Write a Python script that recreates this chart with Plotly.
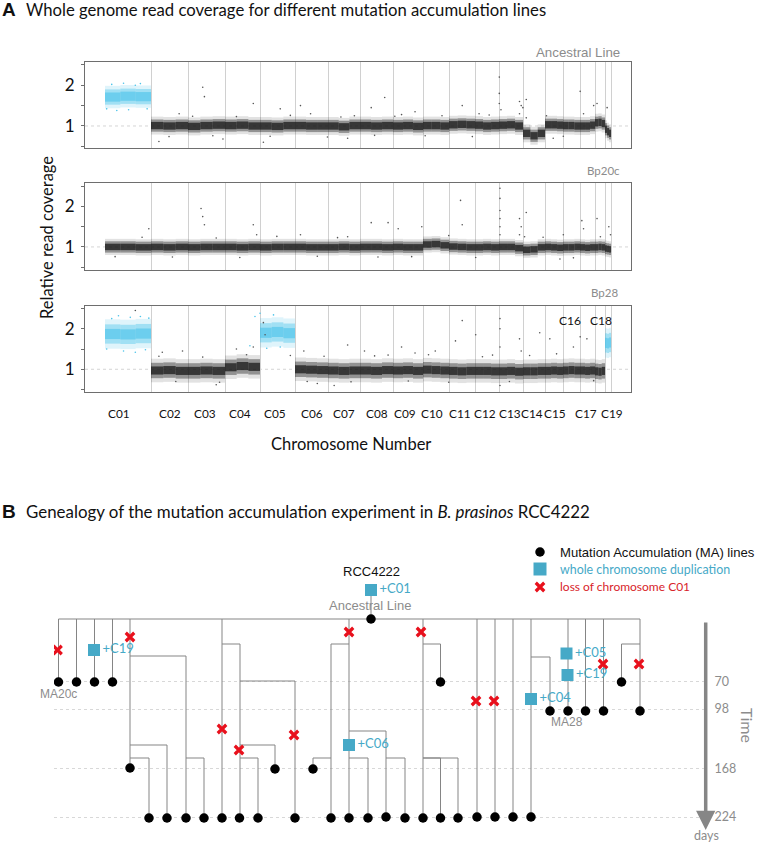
import plotly.graph_objects as go

W, H = 758, 843
BODY_FONT = "Lato, sans-serif"
ARIAL = "Liberation Sans, sans-serif"
GRAY_TXT = "#8c8c8c"
TEAL = "#46a9c7"
RED = "#e8101c"
CYAN = "#4cc4ea"

# chromosome lengths in Mb
chromosomes = ["C01", "C02", "C03", "C04", "C05", "C06", "C07", "C08", "C09", "C10",
               "C11", "C12", "C13", "C14", "C15", "C16", "C17", "C18", "C19"]
chr_len = [1.365, 1.098, 1.098, 1.039, 1.039, 0.979, 0.950, 0.979, 0.890, 0.772,
           0.772, 0.712, 0.712, 0.653, 0.534, 0.504, 0.445, 0.297, 0.178]
label_names = ["C01", "C02", "C03", "C04", "C05", "C06", "C07", "C08", "C09", "C10",
               "C11", "C12", "C13", "C14", "C15", "C17", "C19"]
label_mb = [0.42, 1.93, 2.97, 4.01, 5.04, 6.14, 7.09, 8.07, 8.90, 9.70,
            10.53, 11.28, 12.02, 12.67, 13.35, 14.27, 15.04]

# relative coverage, three windows per chromosome
anc_cov = [[1.71, 1.73, 1.72], [1.01, 1.00, 1.01], [0.99, 1.01, 1.02], [1.01, 1.02, 1.00],
           [1.00, 0.99, 1.01], [1.01, 1.00, 1.00], [1.00, 0.98, 1.01], [1.01, 1.00, 1.01],
           [1.00, 1.01, 0.99], [1.01, 1.01, 1.00], [1.03, 1.04, 1.03], [1.02, 1.00, 1.01],
           [1.02, 1.03, 1.00], [0.82, 0.76, 0.82], [1.03, 1.03, 1.02], [1.01, 1.01, 1.00],
           [1.00, 1.00, 1.02], [1.08, 1.09, 1.06], [0.92, 0.86, 0.82]]
bp20_cov = [[1.00, 1.00, 0.99], [1.00, 0.99, 1.00], [0.99, 1.00, 1.00], [1.00, 0.99, 1.00],
            [0.99, 1.00, 1.00], [1.00, 0.99, 0.99], [0.99, 1.00, 0.99], [1.00, 1.00, 0.99],
            [1.00, 0.99, 0.99], [1.06, 1.07, 1.04], [1.01, 1.00, 0.99], [0.99, 1.00, 0.99],
            [1.00, 1.00, 0.97], [0.93, 0.94, 0.99], [1.00, 0.99, 0.98], [0.99, 0.99, 1.00],
            [0.99, 0.98, 0.99], [0.99, 1.00, 0.99], [0.96, 0.95, 0.94]]
bp28_cov = [[1.87, 1.86, 1.88], [0.97, 0.98, 0.96], [0.96, 0.97, 0.96], [1.05, 1.08, 1.06],
            [1.90, 1.92, 1.89], [1.00, 0.99, 0.98], [0.97, 0.96, 0.97], [0.97, 0.96, 0.98],
            [0.97, 0.98, 0.96], [0.99, 0.98, 0.97], [0.96, 0.95, 0.96], [0.96, 0.96, 0.95],
            [0.95, 0.96, 0.94], [0.95, 0.95, 0.96], [0.96, 0.97, 0.96], [0.97, 0.98, 0.97],
            [0.97, 0.96, 0.97], [0.95, 0.94, 0.96], [1.65, 1.64, 1.66]]

anc_gains = ["C01"]
bp20_gains = []
bp28_gains = ["C01", "C05", "C19"]

# isolated points outside the band: Mb, coverage
anc_out_x = [2.9, 2.95, 3.5, 4.4, 5.2, 5.8, 6.1, 7.4, 7.9, 8.3, 9.2, 10.6, 11.1, 11.7, 11.7, 11.7, 11.75,
             12.3, 12.35, 12.3, 12.4, 12.5, 12.5, 14.1, 14.5, 14.6, 14.9, 1.6, 2.2, 4.7, 13.1, 13.3, 7.2, 8.8,
             1.9, 2.6, 3.2, 3.9, 4.9, 5.5, 6.6, 7.0, 8.0, 8.6, 9.5, 10.0, 10.9, 11.4, 13.6, 14.2]
anc_out_y = [1.95, 1.72, 0.68, 1.55, 1.42, 1.5, 1.3, 1.25, 1.45, 1.7, 1.35, 1.5, 1.3, 2.2, 1.8, 1.55, 1.4,
             1.6, 1.5, 1.3, 1.45, 1.65, 1.2, 1.85, 1.5, 1.55, 1.45, 0.62, 1.3, 0.6, 1.25, 0.7, 0.7, 1.28,
             0.74, 1.24, 0.76, 1.23, 0.75, 1.26, 0.73, 1.22, 0.77, 1.24, 0.76, 1.25, 0.74, 1.27, 0.75, 1.3]
bp20_out_x = [2.85, 2.9, 2.95, 1.3, 4.4, 4.5, 5.8, 7.2, 7.9, 8.4, 9.4, 10.6, 10.55, 11.72, 11.72, 11.72, 11.72, 11.72,
              11.72, 12.3, 12.35, 12.3, 12.45, 12.5, 14.15, 14.2, 14.6, 14.7, 14.95, 15.0, 13.5, 13.6, 8.7,
              0.3, 1.1, 2.0, 3.3, 4.0, 5.1, 6.3, 6.9, 8.1, 9.1, 10.2, 11.0, 13.0, 13.9]
bp20_out_y = [1.95, 1.75, 1.55, 1.45, 1.55, 1.3, 1.3, 1.25, 1.6, 1.6, 1.5, 1.55, 2.15, 2.45, 2.2, 1.9, 1.7, 1.5,
              1.3, 1.7, 1.5, 1.3, 1.25, 1.85, 1.65, 1.45, 1.7, 1.25, 1.5, 1.3, 0.7, 1.3, 1.45,
              0.76, 1.24, 0.75, 1.22, 0.74, 1.26, 0.77, 1.23, 0.75, 0.76, 1.28, 0.74, 1.24, 0.73]
bp28_out_x = [0.9, 1.7, 2.3, 3.9, 4.4, 4.7, 4.75, 5.9, 7.2, 7.7, 8.4, 8.8, 9.2, 9.8, 10.4, 10.6, 11.0,
              11.72, 11.72, 11.72, 11.72, 12.3, 12.35, 12.9, 13.2, 13.9, 14.1, 14.3, 3.3, 6.3, 6.8, 11.5,
              1.6, 2.1, 2.9, 3.4, 4.2, 5.5, 6.0, 6.5, 7.3, 8.0, 9.0, 9.6, 10.2, 11.2, 12.0, 12.6, 13.4, 14.5]
bp28_out_y = [2.45, 1.42, 1.45, 1.5, 1.55, 2.15, 1.85, 1.45, 1.6, 1.45, 1.35, 1.55, 1.4, 1.45, 1.7, 2.2, 1.85,
              2.25, 2.0, 1.55, 0.6, 1.75, 1.45, 1.9, 1.75, 1.55, 1.8, 1.75, 0.62, 0.65, 0.6, 1.35,
              1.32, 0.7, 1.3, 0.68, 1.36, 1.34, 0.7, 1.32, 0.69, 1.33, 0.71, 1.36, 0.68, 1.31, 0.7, 1.34, 1.38, 0.72]
gain_out_x = [0.05, 0.2, 0.4, 0.55, 0.75, 0.9, 1.05, 1.2, 1.3, 4.3, 4.45, 4.6, 4.8, 5.0, 5.2]
gain_out_y = [1.5, 2.25, 2.32, 1.45, 2.28, 1.42, 2.3, 1.48, 2.26, 1.58, 2.3, 2.38, 1.52, 2.34, 1.55]
anc_gain_x = [0.05, 0.2, 0.35, 0.55, 0.7, 0.9, 1.05, 1.25]
anc_gain_y = [1.42, 2.02, 1.38, 2.05, 1.4, 2.0, 2.04, 1.42]

# genealogy tree: x is the position of a line, y is the depth below the root
trunk_x = [58.5, 76.5, 94.5, 112.5, 130, 222, 349, 423, 477, 495, 513, 531, 568, 585.5, 603.5, 640]
trunk_end = [63, 63, 63, 63, 149, 198, 198, 198, 198, 198, 198, 198, 92, 92, 92, 92]
branch_from = [130, 186, 130, 130, 222, 240, 240, 240, 349, 331, 349, 349, 386, 423, 423, 423, 531, 640]
branch_at = [37, 139, 126, 139, 25, 62, 126, 139, 25, 139, 112, 139, 139, 25, 139, 139, 38, 25]
branch_to = [186, 204, 167, 149, 240, 295, 275, 258, 331, 313, 386, 368, 405, 440.5, 440.5, 458, 550, 621.5]
branch_end = [198, 198, 198, 198, 198, 198, 150, 198, 198, 150, 198, 198, 198, 63, 198, 198, 92, 63]
node_x = [58.5, 76.5, 94.5, 112.5, 130, 149, 167, 186, 204, 222, 239.5, 258, 275, 295, 313, 331, 349, 368, 371,
          386, 405, 423, 440.5, 440.5, 458, 477, 495, 513, 531, 550, 568, 585.5, 603.5, 621.5, 640]
node_y = [63, 63, 63, 63, 149, 199, 199, 199, 199, 199, 199, 199, 150, 199, 150, 199, 199, 199, 0,
          198, 199, 199, 63, 199, 199, 198, 198, 198, 198, 92, 92, 92, 92, 63, 92]
loss_x = [57.5, 130, 222, 239, 294, 349, 421, 476, 494, 603, 639]
loss_y = [31, 18, 110, 131, 116, 13, 13, 82, 82, 45, 45]
dup_x = [94, 349, 371, 531, 566.5, 567.5]
dup_y = [31, 126, -29, 80, 34.5, 56]
dup_chr = ["+C19", "+C06", "+C01", "+C04", "+C05", "+C19"]
time_pos = [62.5, 90, 149.5, 198]
time_days = [70, 98, 168, 224]


def px_x(p):
    return p / W


def px_y(p):
    return 1 - p / H


def chrom_edges():
    edges = [0.0]
    for length in chr_len:
        edges.append(edges[-1] + length)
    return edges


edges = chrom_edges()
SCALE = 33.7
X_RANGE = [(85 - 105) / SCALE, (631 - 105) / SCALE]

fig = go.Figure()


def add_band(cov, gains, axis, halves):
    xs, ws, mids, colors = [], [], [], []
    for i, windows in enumerate(cov):
        w = chr_len[i] / len(windows)
        for j, v in enumerate(windows):
            xs.append(edges[i] + w * (j + 0.5))
            ws.append(w)
            mids.append(v)
            colors.append(chromosomes[i] in gains)
    # stacked layers: sparse fringe out, dense core in
    for gained, col, scale, strengths in [(False, "#111111", 1.0, [0.12, 0.38, 0.7]),
                                          (True, CYAN, 1.25, [0.18, 0.42, 0.62])]:
        idx = [k for k, g in enumerate(colors) if g == gained]
        if not idx:
            continue
        for half, alpha in zip(halves, strengths):
            h = half * scale
            fig.add_trace(go.Bar(
                x=[xs[k] for k in idx], width=[ws[k] for k in idx],
                base=[mids[k] - h for k in idx], y=[2 * h] * len(idx),
                marker=dict(color=col, opacity=alpha, line_width=0),
                xaxis="x" + axis, yaxis="y" + axis, showlegend=False))


panels = [
    ("", anc_cov, anc_gains, anc_out_x, anc_out_y, 62, 148, [0.46, 2.57], [0.22, 0.15, 0.09]),
    ("2", bp20_cov, bp20_gains, bp20_out_x, bp20_out_y, 183, 270, [0.43, 2.58], [0.2, 0.14, 0.08]),
    ("3", bp28_cov, bp28_gains, bp28_out_x, bp28_out_y, 306, 392, [0.44, 2.56], [0.29, 0.19, 0.1]),
]

for axis, cov, gains, ox, oy, top, bottom, yr, halves in panels:
    add_band(cov, gains, axis, halves)
    fig.add_trace(go.Scatter(x=ox, y=oy, mode="markers", showlegend=False,
                             marker=dict(size=1.6, color="#555555"),
                             xaxis="x" + axis, yaxis="y" + axis))
    fig.update_layout({
        "xaxis" + axis: dict(domain=[px_x(85), px_x(631)], range=X_RANGE, anchor="y" + axis,
                             tickvals=edges[1:], showticklabels=False, ticks="",
                             showgrid=True, gridcolor="#d0d0d0", gridwidth=1, zeroline=False,
                             showline=True, mirror=True, linecolor="#6e6e6e", linewidth=1),
        "yaxis" + axis: dict(domain=[px_y(bottom), px_y(top)], range=yr, anchor="x" + axis,
                             tickvals=[0.5, 1, 1.5, 2, 2.5], ticktext=["", "1", "", "2", ""],
                             ticks="outside", ticklen=3, tickcolor="#6e6e6e", showgrid=False,
                             zeroline=False, tickfont=dict(family=BODY_FONT, size=17, color="#111111"),
                             ticklabelstandoff=3,
                             showline=True, mirror=True, linecolor="#6e6e6e", linewidth=1),
    })
    fig.add_shape(type="line", xref="x" + axis, yref="y" + axis, x0=X_RANGE[0], x1=X_RANGE[1], y0=1, y1=1,
                  line=dict(color="#d5d5d5", width=1, dash="dot"), layer="below")

fig.add_trace(go.Scatter(x=anc_gain_x, y=anc_gain_y, mode="markers", showlegend=False,
                         marker=dict(size=1.6, color=CYAN), xaxis="x", yaxis="y"))
fig.add_trace(go.Scatter(x=gain_out_x, y=gain_out_y, mode="markers", showlegend=False,
                         marker=dict(size=1.6, color=CYAN), xaxis="x3", yaxis="y3"))

# genealogy
edge_x, edge_y = [], []
edge_x += [min(trunk_x), max(trunk_x), None]
edge_y += [0, 0, None]
for x, end in zip(trunk_x, trunk_end):
    edge_x += [x, x, None]
    edge_y += [0, end, None]
for start, at, to, end in zip(branch_from, branch_at, branch_to, branch_end):
    edge_x += [start, to, to, None]
    edge_y += [at, at, end, None]
edge_x += [371, 371, None]
edge_y += [-29, 0, None]

tree = dict(xaxis="x4", yaxis="y4", showlegend=False)
fig.add_trace(go.Scatter(x=edge_x, y=edge_y, mode="lines", line=dict(color="#858585", width=1), **tree))
fig.add_trace(go.Scatter(x=node_x, y=node_y, mode="markers", marker=dict(size=9.5, color="black"), **tree))
fig.add_trace(go.Scatter(x=loss_x, y=loss_y, mode="markers",
                         marker=dict(symbol="x-thin", size=8.5, line=dict(width=3.2, color=RED)), **tree))
fig.add_trace(go.Scatter(x=dup_x, y=dup_y, mode="markers+text", text=dup_chr, textposition="middle right",
                         textfont=dict(family=BODY_FONT, size=13, color=TEAL),
                         marker=dict(symbol="square", size=12, color=TEAL), **tree))
# legend keys
fig.add_trace(go.Scatter(x=[540], y=[-67], mode="markers", marker=dict(size=9.5, color="black"), **tree))
fig.add_trace(go.Scatter(x=[540], y=[-50], mode="markers", marker=dict(symbol="square", size=13, color=TEAL), **tree))
fig.add_trace(go.Scatter(x=[540], y=[-32], mode="markers",
                         marker=dict(symbol="x-thin", size=8.5, line=dict(width=3.2, color=RED)), **tree))

fig.update_layout(
    xaxis4=dict(domain=[px_x(54), px_x(705)], range=[54, 705], anchor="y4", visible=False),
    yaxis4=dict(domain=[px_y(843), px_y(520)], range=[224, -99], anchor="x4", side="right",
                tickvals=time_pos, ticktext=[str(d) for d in time_days], ticks="outside", ticklen=6,
                tickcolor="rgba(0,0,0,0)", tickfont=dict(family=BODY_FONT, size=12.5, color=GRAY_TXT),
                showgrid=True, gridcolor="#d8d8d8", griddash="dot", gridwidth=1,
                zeroline=False, showline=False),
)


def text(x, y, s, size=13, color="#111111", family=BODY_FONT, anchor="left", angle=0):
    fig.add_annotation(x=px_x(x), y=px_y(y), xref="paper", yref="paper", text=s, showarrow=False,
                       xanchor=anchor, yanchor="middle", textangle=angle,
                       font=dict(family=family, size=size, color=color))


text(0, 10, "<b>A</b>", size=19, family=ARIAL)
text(24, 10, "Whole genome read coverage for different mutation accumulation lines", size=16.7)
text(0, 511, "<b>B</b>", size=19, family=ARIAL)
text(24, 511, "Genealogy of the mutation accumulation experiment in <i>B. prasinos</i> RCC4222", size=16.9)
text(622, 52, "Ancestral Line", size=13.3, color=GRAY_TXT, family=ARIAL, anchor="right")
text(622, 170, "Bp20c", size=11.5, color=GRAY_TXT, anchor="right")
text(620, 292, "Bp28", size=11.5, color=GRAY_TXT, anchor="right")
text(47, 238, "Relative read coverage", size=16.5, anchor="center", angle=-90)
text(351, 444, "Chromosome Number", size=16.5, anchor="center")
text(570, 320, "C16", size=12, anchor="center")
text(601, 320, "C18", size=12, anchor="center")
for name, mb in zip(label_names, label_mb):
    fig.add_annotation(x=mb, xref="x3", y=px_y(413), yref="paper", text=name, showarrow=False,
                       xanchor="center", yanchor="middle", font=dict(family=BODY_FONT, size=11.8, color="#111111"))

text(371, 571, "RCC4222", size=13, family=ARIAL, anchor="center")
text(370, 605, "Ancestral Line", size=13, color=GRAY_TXT, family=ARIAL, anchor="center")
text(58, 694, "MA20c", size=12, color=GRAY_TXT, family=ARIAL, anchor="center")
text(567, 722, "MA28", size=12, color=GRAY_TXT, family=ARIAL, anchor="center")
text(558, 552, "Mutation Accumulation (MA) lines", size=13.1, family=ARIAL)
text(558, 569, "whole chromosome duplication", size=12.4, color=TEAL)
text(558, 586, "loss of chromosome C01", size=12, color="#d8232a")
text(748, 725, "Time", size=16, color=GRAY_TXT, anchor="center", angle=90)
text(706, 835, "days", size=12.5, color=GRAY_TXT, anchor="center")

fig.add_annotation(x=px_x(705.7), y=px_y(830), ax=0, ay=-209, xref="paper", yref="paper",
                   axref="pixel", ayref="pixel", text="", showarrow=True, arrowhead=2, arrowsize=1.1,
                   arrowwidth=3.5, arrowcolor="#868686")

fig.update_layout(width=W, height=H, margin=dict(l=0, r=0, t=0, b=0), autosize=False,
                  paper_bgcolor="white", plot_bgcolor="rgba(0,0,0,0)", barmode="overlay", showlegend=False)

fig.write_html("out.html", config={"displayModeBar": False}, post_script='document.body.style.margin="0";')
